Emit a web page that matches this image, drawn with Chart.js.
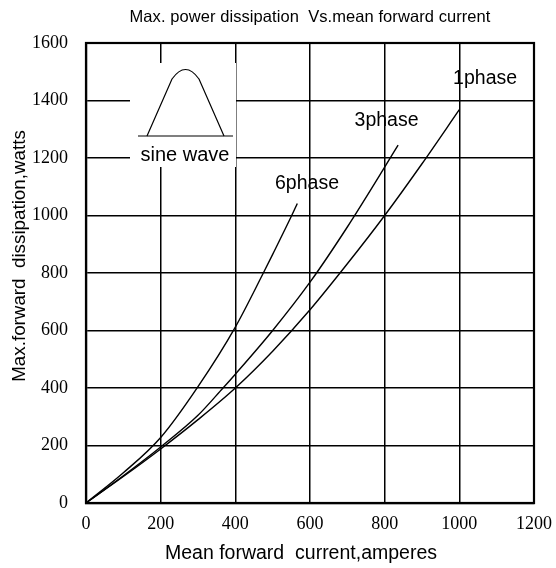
<!DOCTYPE html>
<html>
<head>
<meta charset="utf-8">
<script src="https://cdn.jsdelivr.net/npm/chart.js@4/dist/chart.umd.min.js"></script>
<style>
  html, body { margin: 0; padding: 0; background: #fff; }
  #wrap { width: 556px; height: 568px; }
</style>
</head>
<body>
<div id="wrap"><canvas id="chart"></canvas></div>
<script>
// values
const current1 = [0, 100, 200, 300, 400, 500, 600, 700, 800, 900, 1000];
const watts1   = [0, 92, 188, 290, 400, 528, 672, 832, 1000, 1180, 1368];

const current3 = [0, 100, 200, 300, 367, 400, 500, 600, 700, 800, 836];
const watts3   = [0, 95, 195, 305, 400, 448, 600, 768, 960, 1168, 1245];

const current6 = [0, 100, 200, 300, 400, 475, 500, 551, 566];
const watts6   = [0, 105, 228, 405, 612, 800, 865, 1000, 1042];

const seriesNames = ["1phase", "3phase", "6phase"];
// where each curve name sits (data units)
const nameX = [1069, 805, 592];
const nameY = [1475, 1329, 1110];

const xTicks = [0, 200, 400, 600, 800, 1000, 1200];
const yTicks = [0, 200, 400, 600, 800, 1000, 1200, 1400, 1600];

const chartTitle = "Max. power dissipation  Vs.mean forward current";
const xTitle = "Mean forward  current,amperes";
const yTitle = "Max.forward  dissipation,watts";

function pts(xs, ys) {
  return xs.map(function(x, i) { return {x: x, y: ys[i]}; });
}

const sans = "'Liberation Sans', Arial, sans-serif";
const serif = "'Liberation Serif', 'Times New Roman', serif";

const decor = {
  id: "decor",
  beforeDatasetsDraw: function(chart) {
    const ctx = chart.ctx;
    const a = chart.chartArea;
    const ox = a.left, oy = a.top;
    ctx.save();
    // white box behind the sine wave inset
    ctx.fillStyle = "#fff";
    ctx.fillRect(ox + 44, oy + 20, 106, 104);
    ctx.strokeStyle = "#000";
    ctx.lineWidth = 1.2;
    ctx.beginPath();
    ctx.moveTo(ox + 52, oy + 93);
    ctx.lineTo(ox + 147, oy + 93);
    ctx.stroke();
    ctx.beginPath();
    ctx.moveTo(ox + 61, oy + 93);
    ctx.lineTo(ox + 86, oy + 36);
    ctx.quadraticCurveTo(ox + 99.5, oy + 17, ox + 113, oy + 36);
    ctx.lineTo(ox + 138, oy + 93);
    ctx.stroke();
    ctx.fillStyle = "#000";
    ctx.font = "20px " + sans;
    ctx.textAlign = "center";
    ctx.textBaseline = "alphabetic";
    ctx.fillText("sine wave", ox + 99, oy + 118);
    ctx.restore();
  },
  afterDatasetsDraw: function(chart) {
    const ctx = chart.ctx;
    const a = chart.chartArea;
    const xs = chart.scales.x, ys = chart.scales.y;
    ctx.save();
    ctx.fillStyle = "#000";
    ctx.font = "19.5px " + sans;
    ctx.textAlign = "center";
    ctx.textBaseline = "middle";
    seriesNames.forEach(function(n, i) {
      ctx.fillText(n, xs.getPixelForValue(nameX[i]), ys.getPixelForValue(nameY[i]));
    });
    ctx.strokeStyle = "#000";
    ctx.lineWidth = 2.2;
    ctx.strokeRect(a.left, a.top, a.right - a.left, a.bottom - a.top);

    // axis titles
    ctx.font = "19.5px " + sans;
    ctx.textBaseline = "alphabetic";
    ctx.fillText(xTitle, (a.left + a.right) / 2 - 9, 559);
    ctx.save();
    ctx.translate(25, 256);
    ctx.rotate(-Math.PI / 2);
    ctx.font = "18.8px " + sans;
    ctx.fillText(yTitle, 0, 0);
    ctx.restore();

    // chart title, slightly loose spacing
    ctx.font = "16.5px " + sans;
    ctx.textBaseline = "middle";
    const w = ctx.measureText(chartTitle).width;
    const gap = Math.max(0, (361 - w) / (chartTitle.length - 1));
    ctx.letterSpacing = gap.toFixed(2) + "px";
    ctx.fillText(chartTitle, (a.left + a.right) / 2, 17);
    ctx.restore();
  }
};

function line(data) {
  return {
    data: data,
    borderColor: "#000",
    borderWidth: 1.4,
    pointRadius: 0,
    fill: false,
    cubicInterpolationMode: "monotone"
  };
}

new Chart(document.getElementById("chart"), {
  type: "line",
  data: {
    datasets: [
      line(pts(current1, watts1)),
      line(pts(current3, watts3)),
      line(pts(current6, watts6))
    ]
  },
  options: {
    responsive: true,
    maintainAspectRatio: false,
    animation: false,
    layout: { padding: { top: 43, right: 22, left: 0, bottom: 0 } },
    plugins: { legend: { display: false }, tooltip: { enabled: false } },
    scales: {
      x: {
        type: "linear",
        min: 0, max: 1200,
        afterBuildTicks: function(s) { s.ticks = xTicks.map(function(v) { return {value: v}; }); },
        afterFit: function(s) { s.height = 65; s.paddingLeft = 0; s.paddingRight = 0; },
        grid: { color: "#000", lineWidth: 1.5, tickLength: 0, drawTicks: false },
        border: { color: "#000", width: 2.2 },
        ticks: { color: "#000", font: { family: serif, size: 18 }, padding: 10, maxRotation: 0,
                 callback: function(v) { return String(v); } }
      },
      y: {
        min: 0, max: 1600,
        afterBuildTicks: function(s) { s.ticks = yTicks.map(function(v) { return {value: v}; }); },
        afterFit: function(s) { s.width = 86; s.paddingTop = 0; s.paddingBottom = 0; },
        grid: { color: "#000", lineWidth: 1.5, tickLength: 0, drawTicks: false },
        border: { color: "#000", width: 2.2 },
        ticks: { color: "#000", font: { family: serif, size: 18 }, padding: 18,
                 callback: function(v) { return String(v); } }
      }
    }
  },
  plugins: [decor]
});
</script>
</body>
</html>
